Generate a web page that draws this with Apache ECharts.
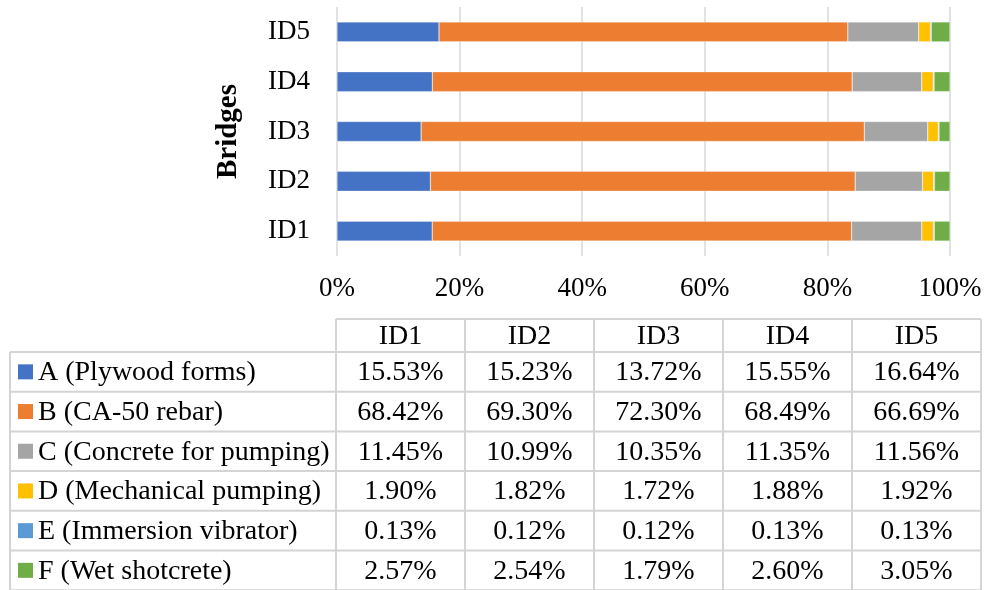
<!DOCTYPE html>
<html>
<head>
<meta charset="utf-8">
<script src="https://cdn.jsdelivr.net/npm/echarts@6/dist/echarts.min.js"></script>
<style>
  html, body { margin: 0; padding: 0; background: #fff; }
  #chart { width: 987px; height: 590px; }
</style>
</head>
<body>
<div id="chart"></div>
<script>
// Bridges and cost components (share of total cost, %)
const bridges = ['ID1', 'ID2', 'ID3', 'ID4', 'ID5'];
const componentNames = [
  'A (Plywood forms)',
  'B (CA-50 rebar)',
  'C (Concrete for pumping)',
  'D (Mechanical pumping)',
  'E (Immersion vibrator)',
  'F (Wet shotcrete)'
];
const plywoodForms     = [15.53, 15.23, 13.72, 15.55, 16.64];
const rebar            = [68.42, 69.30, 72.30, 68.49, 66.69];
const concretePumping  = [11.45, 10.99, 10.35, 11.35, 11.56];
const mechanicalPump   = [1.90, 1.82, 1.72, 1.88, 1.92];
const immersionVibr    = [0.13, 0.12, 0.12, 0.13, 0.13];
const wetShotcrete     = [2.57, 2.54, 1.79, 2.60, 3.05];
const axisTicks = [0, 20, 40, 60, 80, 100];

const componentValues = [plywoodForms, rebar, concretePumping, mechanicalPump, immersionVibr, wetShotcrete];
const colors = ['#4472C4', '#ED7D31', '#A5A5A5', '#FFC000', '#5B9BD5', '#70AD47'];

const FONT = "'Liberation Serif', 'Times New Roman', serif";
const FS = 27;      // axis labels
const TFS = 28;     // table text

const chart = echarts.init(document.getElementById('chart'));

// Data-table layout below the plot
const tbl = {
  left: 10, dataLeft: 336, colW: 129,
  headTop: 319, headBottom: 352, rowH: 39.7,
  line: '#d4d4d4', lineW: 2
};

function buildTable() {
  const els = [];
  const right = tbl.dataLeft + tbl.colW * bridges.length;
  const rowTop = i => tbl.headBottom + i * tbl.rowH;
  const bottom = rowTop(componentNames.length);
  const ln = (x1, y1, x2, y2) => ({
    type: 'line', silent: true,
    shape: { x1, y1, x2, y2 },
    style: { stroke: tbl.line, lineWidth: tbl.lineW }
  });
  // header borders
  els.push(ln(tbl.dataLeft, tbl.headTop, right, tbl.headTop));
  for (let c = 0; c <= bridges.length; c++) {
    const x = tbl.dataLeft + c * tbl.colW;
    els.push(ln(x, tbl.headTop, x, bottom));
  }
  // row borders
  for (let r = 0; r <= componentNames.length; r++) {
    const y = rowTop(r);
    els.push(ln(tbl.left, y, right, y));
  }
  els.push(ln(tbl.left, tbl.headBottom, tbl.left, bottom));
  // header text
  bridges.forEach((b, c) => {
    els.push({
      type: 'text', silent: true,
      style: {
        text: b, x: tbl.dataLeft + (c + 0.5) * tbl.colW, y: (tbl.headTop + tbl.headBottom) / 2 + 1,
        font: TFS + 'px ' + FONT, fill: '#000', textAlign: 'center', textVerticalAlign: 'middle'
      }
    });
  });
  // rows: legend key + values
  componentNames.forEach((name, r) => {
    const cy = rowTop(r) + tbl.rowH / 2;
    els.push({
      type: 'rect', silent: true,
      shape: { x: 18, y: cy - 7.5, width: 15, height: 15 },
      style: { fill: colors[r] }
    });
    els.push({
      type: 'text', silent: true,
      style: {
        text: name, x: 38, y: cy + 1,
        font: TFS + 'px ' + FONT, fill: '#000', textAlign: 'left', textVerticalAlign: 'middle'
      }
    });
    componentValues[r].forEach((v, c) => {
      els.push({
        type: 'text', silent: true,
        style: {
          text: v.toFixed(2) + '%', x: tbl.dataLeft + (c + 0.5) * tbl.colW, y: cy + 1,
          font: TFS + 'px ' + FONT, fill: '#000', textAlign: 'center', textVerticalAlign: 'middle'
        }
      });
    });
  });
  return els;
}

const option = {
  backgroundColor: '#fff',
  animation: false,
  grid: { left: 337, right: 37, top: 7, bottom: 334, outerBoundsMode: 'none', containLabel: false },
  xAxis: {
    type: 'value',
    min: axisTicks[0],
    max: axisTicks[axisTicks.length - 1],
    interval: axisTicks[1] - axisTicks[0],
    axisLine: { show: false },
    axisTick: { show: false },
    splitLine: { show: true, lineStyle: { color: '#d9d9d9', width: 1.5 } },
    axisLabel: {
      formatter: '{value}%', margin: 19,
      fontFamily: FONT, fontSize: FS, color: '#000'
    }
  },
  yAxis: {
    type: 'category',
    data: bridges,
    axisLine: { show: false },
    axisTick: { show: false },
    axisLabel: { margin: 27, fontFamily: FONT, fontSize: FS, color: '#000' },
    name: 'Bridges',
    nameLocation: 'middle',
    nameRotate: 90,
    nameGap: 94,
    nameTextStyle: { fontFamily: FONT, fontSize: 29, fontWeight: 'bold', color: '#000' }
  },
  series: componentNames.map((name, i) => ({
    name,
    type: 'bar',
    stack: 'total',
    barWidth: '40%',
    data: componentValues[i],
    itemStyle: { color: colors[i], borderColor: 'rgba(255,255,255,0.6)', borderWidth: 0.5 }
  })),
  graphic: buildTable()
};

chart.setOption(option);
</script>
</body>
</html>
